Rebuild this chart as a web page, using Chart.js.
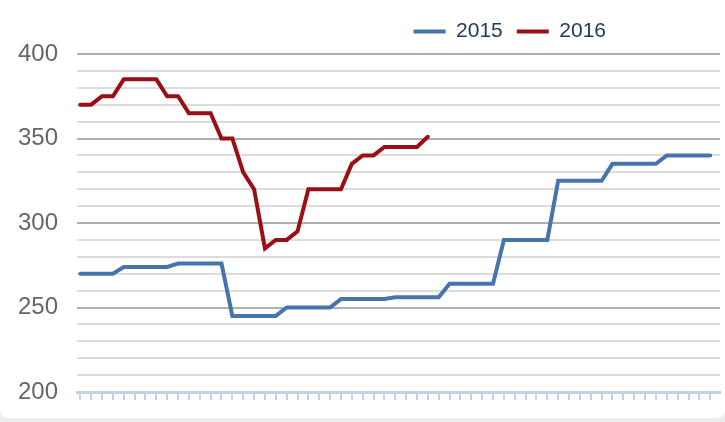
<!DOCTYPE html>
<html>
<head>
<meta charset="utf-8">
<script src="https://cdn.jsdelivr.net/npm/chart.js@4/dist/chart.umd.min.js"></script>
<style>
  html, body { margin: 0; padding: 0; background: #ececec; }
  #card { width: 725px; height: 418px; background: #fff; border-radius: 0 0 8px 8px; overflow: hidden; }
</style>
</head>
<body>
<div id="card"><canvas id="salesChart" width="725" height="418"></canvas></div>
<script>
// weeks along the x axis (no labels shown in the original)
const weeks = ['1','2','3','4','5','6','7','8','9','10','11','12','13','14','15','16','17','18','19','20',
  '21','22','23','24','25','26','27','28','29','30','31','32','33','34','35','36','37','38','39','40',
  '41','42','43','44','45','46','47','48','49','50','51','52','53','54','55','56','57','58','59']

const values2015 = [270, 270, 270, 270, 274, 274, 274, 274, 274, 276, 276, 276, 276, 276,
  245, 245, 245, 245, 245, 250, 250, 250, 250, 250, 255, 255, 255, 255, 255,
  256, 256, 256, 256, 256, 264, 264, 264, 264, 264, 290, 290, 290, 290, 290,
  325, 325, 325, 325, 325, 335, 335, 335, 335, 335, 340, 340, 340, 340, 340]

const values2016 = [370, 370, 375, 375, 385, 385, 385, 385, 375, 375, 365, 365, 365, 350, 350,
  330, 320, 285, 290, 290, 295, 320, 320, 320, 320, 335, 340, 340, 345, 345, 345, 345, 351]

const seriesNames = ['2015', '2016']
const yTicks = [200, 250, 300, 350, 400]

const toPoints = (vals) => vals.map((v, i) => ({ x: weeks.indexOf(weeks[i]), y: v }))

// legend sits right of centre in the original, and a bit more room under it
const legendTweak = {
  id: 'legendTweak',
  beforeInit(chart) {
    const fit = chart.legend.fit
    chart.legend.fit = function () {
      fit.call(this)
      this.height += 2
    }
  },
  beforeDraw(chart) {
    chart.legend.right = chart.chartArea.right - 100
  }
}

const ctx = document.getElementById('salesChart').getContext('2d')
new Chart(ctx, {
  type: 'line',
  data: {
    datasets: [
      {
        label: seriesNames[0],
        data: toPoints(values2015),
        borderColor: '#4674ad',
        backgroundColor: '#4674ad',
        borderWidth: 4,
        pointRadius: 0,
        pointStyle: 'line',
        borderCapStyle: 'round',
        tension: 0
      },
      {
        label: seriesNames[1],
        data: toPoints(values2016),
        borderColor: '#9a0f15',
        backgroundColor: '#9a0f15',
        borderWidth: 4,
        pointRadius: 0,
        pointStyle: 'line',
        borderCapStyle: 'round',
        tension: 0
      }
    ]
  },
  plugins: [legendTweak],
  options: {
    responsive: false,
    animation: false,
    layout: { padding: { top: 7, left: 18, right: 5, bottom: 18 } },
    plugins: {
      tooltip: { enabled: false },
      legend: {
        display: true,
        align: 'end',
        labels: {
          usePointStyle: true,
          pointStyleWidth: 32,
          padding: 14,
          color: '#223a5c',
          font: { family: 'Liberation Sans', size: 21 }
        }
      }
    },
    scales: {
      x: {
        type: 'linear',
        min: -0.3,
        max: 58.9,
        ticks: { display: false, stepSize: 1, includeBounds: false },
        grid: { drawOnChartArea: false, drawTicks: true, tickLength: 8, color: '#c3d2e2', lineWidth: 2 },
        border: { color: '#c3d2e2', width: 3 }
      },
      y: {
        min: 200,
        max: 400,
        ticks: {
          stepSize: 10,
          autoSkip: false,
          padding: 0,
          color: '#666',
          font: { family: 'Liberation Sans', size: 24 },
          callback: (v) => yTicks.includes(v) ? String(v) : ''
        },
        grid: {
          drawTicks: true,
          tickLength: 19,
          tickColor: 'rgba(0,0,0,0)',
          lineWidth: 2,
          color: (c) => c.tick.value === 200 ? 'rgba(0,0,0,0)' : (c.tick.value % 50 === 0 ? '#b0b0b0' : '#dcdcdc')
        },
        border: { display: false }
      }
    }
  }
})
</script>
</body>
</html>
